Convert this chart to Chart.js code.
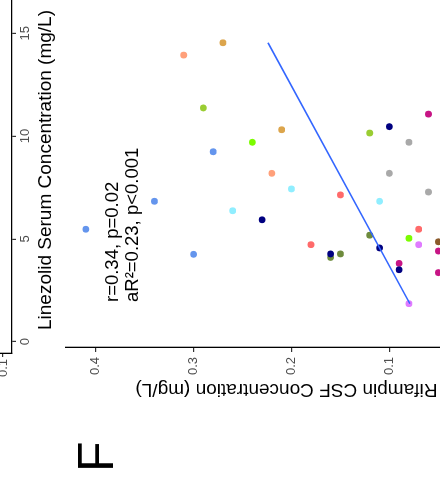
<!DOCTYPE html>
<html><head><meta charset="utf-8">
<script src="https://cdn.jsdelivr.net/npm/chart.js@4.4.1/dist/chart.umd.min.js"></script>
<style>
html,body{margin:0;padding:0;width:440px;height:489px;overflow:hidden;background:#fff;}
#wrap{position:absolute;left:0;top:0;width:489px;height:440px;overflow:hidden;background:#fff;transform-origin:0 0;transform:translate(0,489px) rotate(-90deg);}
#top{position:absolute;left:0;top:-203px;}
#main{position:absolute;left:0;top:0;}
</style></head><body>
<div id="wrap"><canvas id="top" width="540" height="260"></canvas><canvas id="main" width="540" height="580"></canvas></div>
<script>
// ---- data ----
const patients = ['P01','P02','P03','P04','P05','P06','P07','P08','P09','P10','P11','P12','P13'];
const linezolid = [5.47, 6.83, 4.25, 9.24, 13.94, 14.54, 11.37, 6.37, 9.70, 10.31, 8.19, 7.43, 5.93, 4.72,
                   4.10, 4.27, 4.27, 7.14, 10.15, 10.46, 11.07, 9.70, 8.19, 7.28, 6.83, 5.18, 4.56, 5.47,
                   5.03, 4.72, 4.86, 4.41, 3.81, 3.50, 3.36, 1.85];
const rifampin  = [0.41, 0.34, 0.30, 0.28, 0.31, 0.27, 0.29, 0.26, 0.24, 0.21, 0.22, 0.20, 0.23, 0.18,
                   0.16, 0.16, 0.15, 0.15, 0.12, 0.10, 0.06, 0.08, 0.10, 0.06, 0.11, 0.12, 0.11, 0.07,
                   0.08, 0.07, 0.05, 0.05, 0.09, 0.09, 0.05, 0.08];
const patientOf = [0, 0, 0, 0, 1, 2, 3, 4, 5, 2, 1, 4, 6, 7,
                   8, 6, 8, 7, 3, 6, 9, 10, 10, 10, 4, 8, 6, 7,
                   5, 11, 12, 9, 9, 6, 9, 11];
const fitLinezolid = [1.85, 14.54];
const fitRifampin  = [0.079, 0.224];
const statsLines = ['r=0.34, p=0.02', 'aR\u00B2=0.23, p<0.001'];
const panelLetter = 'F';
const linezolidTicks = [0, 5, 10, 15];
const rifampinTicks = [0.1, 0.2, 0.3, 0.4];

// ---- styles ----
const patientColors = ['#6495ED','#FFA07A','#DCA54C','#9ACD32','#90EEFF','#7CFC00','#000080',
                       '#FF6A6A','#6E8B3D','#C71585','#A9A9A9','#E07BFF','#8B5A2B'];
const FONT = "'Liberation Sans', Arial, Helvetica, sans-serif";
Chart.defaults.font.family = FONT;

const gridOpts = (tl) => ({display:true, drawOnChartArea:false, drawTicks:true, tickLength:tl, color:'#333333', lineWidth:1.2});
const borderOpts = {display:true, color:'#000000', width:1.3};
const tickFont = {size:13};

const textPlugin = {
  id:'panelText',
  afterDatasetsDraw(chart, args, opts){
    const {ctx, scales:{x, y}} = chart;
    const px = x.getPixelForValue(opts.anchor[0]);
    const py = y.getPixelForValue(opts.anchor[1]);
    ctx.save();
    ctx.fillStyle = '#000';
    ctx.textAlign = 'left';
    ctx.textBaseline = 'alphabetic';
    ctx.font = '18.5px ' + FONT;
    statsLines.forEach((t, i) => ctx.fillText(t, px, py + i * 20));
    ctx.font = '50px ' + FONT;
    ctx.fillText(panelLetter, opts.letterPos[0], opts.letterPos[1]);
    ctx.restore();
  }
};

// ---- upper panel (only its bottom axis is in view) ----
new Chart(document.getElementById('top'), {
  type:'scatter',
  data:{datasets:[{data:[]}]},
  options:{
    responsive:false, animation:false, events:[],
    layout:{padding:{left:0, top:10, right:38, bottom:0}},
    plugins:{legend:{display:false}, tooltip:{enabled:false}},
    scales:{
      x:{type:'linear', position:'bottom', min:-0.5496, max:17.252,
         afterFit(s){ s.height = 45; },
         afterBuildTicks(s){ s.ticks = linezolidTicks.map(v => ({value:v})); },
         grid:gridOpts(4), border:borderOpts,
         ticks:{color:'#4D4D4D', font:tickFont, padding:2},
         title:{display:true, text:'Linezolid Serum Concentration (mg/L)', color:'#000', font:{size:19}, padding:{top:0, bottom:0}}},
      y:{type:'linear', position:'left', min:0.08, max:0.5356,
         afterFit(s){ s.width = 136; },
         afterBuildTicks(s){ s.ticks = rifampinTicks.map(v => ({value:v})); },
         grid:gridOpts(4), border:borderOpts,
         ticks:{color:'#4D4D4D', font:tickFont, padding:2, callback:v => Number(v).toFixed(1)}}
    }
  }
});

// ---- panel F ----
new Chart(document.getElementById('main'), {
  type:'scatter',
  data:{datasets:[
    {type:'line', data:fitLinezolid.map((v, i) => ({x:v, y:fitRifampin[i]})),
     borderColor:'#3366FF', borderWidth:1.6, pointRadius:0, fill:false, tension:0},
    {data:linezolid.map((v, i) => ({x:v, y:rifampin[i]})),
     backgroundColor:patientOf.map(g => patientColors[g]),
     pointRadius:3.4, pointHoverRadius:3.4, borderWidth:0}
  ]},
  options:{
    responsive:false, animation:false, events:[],
    layout:{padding:{left:0, top:66, right:40, bottom:33.2}},
    plugins:{legend:{display:false}, tooltip:{enabled:false},
             panelText:{anchor:[1.93, 0.377], letterPos:[17, 113]}},
    scales:{
      x:{type:'linear', position:'bottom', min:-0.2578, max:17.155,
         afterFit(s){ s.height = 40; },
         afterBuildTicks(s){ s.ticks = linezolidTicks.map(v => ({value:v})); },
         grid:gridOpts(4), border:borderOpts,
         ticks:{color:'#4D4D4D', font:tickFont, padding:2}},
      y:{type:'linear', position:'left', min:-0.02, max:0.4303,
         afterFit(s){ s.width = 142; },
         afterBuildTicks(s){ s.ticks = rifampinTicks.map(v => ({value:v})); },
         grid:gridOpts(5), border:borderOpts,
         ticks:{color:'#4D4D4D', font:tickFont, padding:5, callback:v => Number(v).toFixed(1)},
         title:{display:true, text:'Rifampin CSF Concentration (mg/L)', color:'#000', font:{size:19}, padding:{top:88, bottom:0}}}
    }
  },
  plugins:[textPlugin]
});
</script>
</body></html>
